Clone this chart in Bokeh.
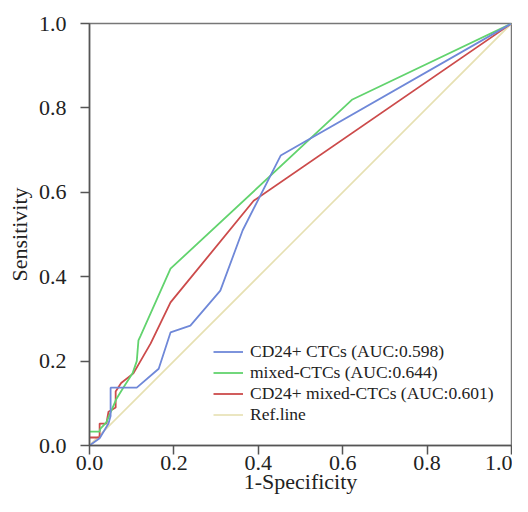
from bokeh.plotting import figure
from bokeh.embed import file_html
from bokeh.resources import INLINE
from bokeh.models import FixedTicker, Range1d, NumeralTickFormatter

# ROC curve data (1-Specificity, Sensitivity)
cd24_fpr = [0.0, 0.024, 0.045, 0.05, 0.05, 0.112, 0.164, 0.192, 0.239, 0.31, 0.363, 0.453, 1.0]
cd24_tpr = [0.0, 0.017, 0.052, 0.07, 0.137, 0.137, 0.182, 0.268, 0.284, 0.367, 0.51, 0.687, 1.0]

mixed_fpr = [0.0, 0.024, 0.026, 0.04, 0.064, 0.08, 0.102, 0.112, 0.116, 0.121, 0.192, 0.623, 1.0]
mixed_tpr = [0.033, 0.033, 0.04, 0.055, 0.111, 0.137, 0.171, 0.2, 0.249, 0.26, 0.419, 0.82, 1.0]

comb_fpr = [0.0, 0.024, 0.024, 0.04, 0.045, 0.062, 0.062, 0.075, 0.104, 0.145, 0.192, 0.389, 1.0]
comb_tpr = [0.019, 0.019, 0.052, 0.052, 0.08, 0.09, 0.128, 0.148, 0.171, 0.242, 0.339, 0.58, 1.0]

ref_x = [0.0, 1.0]
ref_y = [0.0, 1.0]

labels = ["CD24+ CTCs (AUC:0.598)", "mixed-CTCs (AUC:0.644)",
          "CD24+ mixed-CTCs (AUC:0.601)", "Ref.line"]
colors = ["#6f88d8", "#62d36e", "#cc4b4b", "#e6e0b2"]
ticks = [0.0, 0.2, 0.4, 0.6, 0.8, 1.0]
x_title = "1-Specificity"
y_title = "Sensitivity"

FONT = "Liberation Serif"

p = figure(width=512, height=496, output_backend="svg", toolbar_location=None,
           x_range=Range1d(0, 1), y_range=Range1d(0, 1),
           min_border_left=89, min_border_right=1, min_border_top=23, min_border_bottom=51)

p.line(ref_x, ref_y, color=colors[3], line_width=1.6, legend_label=labels[3])
p.line(comb_fpr, comb_tpr, color=colors[2], line_width=1.8, legend_label=labels[2])
p.line(mixed_fpr, mixed_tpr, color=colors[1], line_width=1.8, legend_label=labels[1])
p.line(cd24_fpr, cd24_tpr, color=colors[0], line_width=1.8, legend_label=labels[0])

items = p.legend[0].items
order = {lab: i for i, lab in enumerate(labels)}
p.legend[0].items = sorted(items, key=lambda it: order[it.label.value])

leg = p.legend[0]
leg.location = (124, 20)
leg.border_line_color = None
leg.background_fill_alpha = 0
leg.label_text_font = FONT
leg.label_text_font_size = "17.5px"
leg.label_text_color = "#222222"
leg.glyph_width = 30
leg.glyph_height = 19
leg.label_height = 19
leg.spacing = 0
leg.padding = 2
leg.margin = 0
leg.label_standoff = 7

p.grid.visible = False
p.outline_line_color = "#777777"
p.outline_line_width = 1.5

for ax in (p.xaxis[0], p.yaxis[0]):
    ax.ticker = FixedTicker(ticks=ticks)
    ax.formatter = NumeralTickFormatter(format="0.0")
    ax.minor_tick_line_color = None
    ax.major_tick_in = 0
    ax.major_tick_out = 9
    ax.major_tick_line_color = "#555555"
    ax.major_tick_line_width = 1.5
    ax.axis_line_color = "#555555"
    ax.axis_line_width = 1.5
    ax.major_label_text_font = FONT
    ax.major_label_text_font_size = "22px"
    ax.major_label_text_color = "#222222"
    ax.axis_label_text_font = FONT
    ax.axis_label_text_font_size = "22px"
    ax.axis_label_text_font_style = "normal"
    ax.axis_label_text_color = "#222222"

p.xaxis[0].axis_label = x_title
p.xaxis[0].major_label_standoff = 1
p.xaxis[0].axis_label_standoff = -4
p.yaxis[0].axis_label = y_title
p.yaxis[0].major_label_standoff = 14
p.yaxis[0].axis_label_standoff = 4

open("out.html", "w").write(file_html(p, INLINE))
